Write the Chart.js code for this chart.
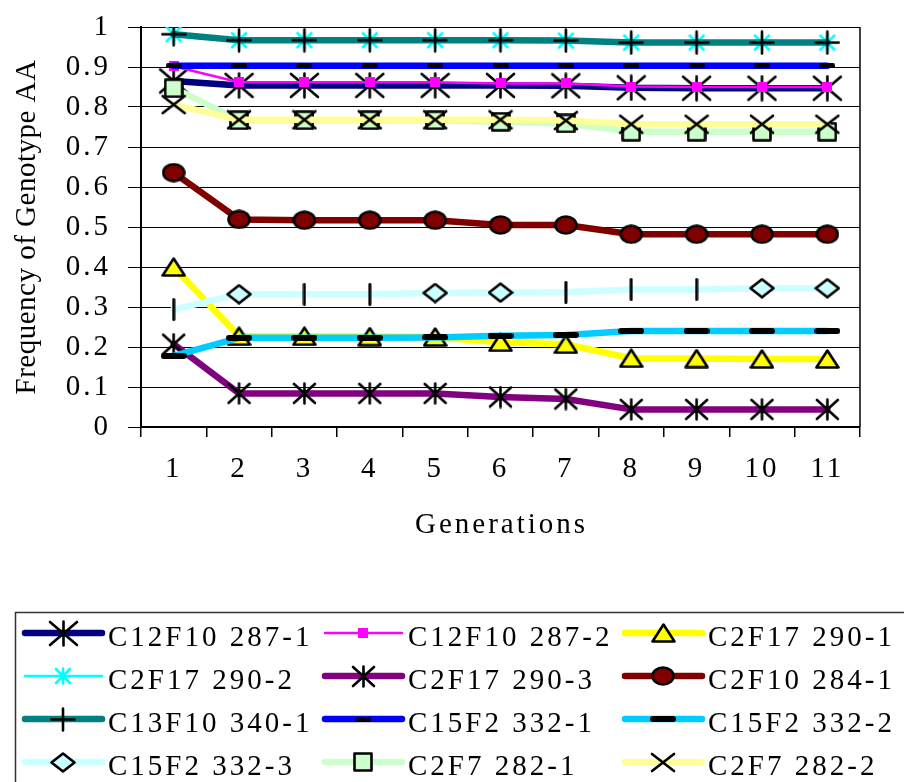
<!DOCTYPE html>
<html>
<head>
<meta charset="utf-8">
<script src="https://cdn.jsdelivr.net/npm/chart.js@4.4.1/dist/chart.umd.min.js"></script>
<style>
  html, body { margin: 0; padding: 0; background: #fff; }
  #chart { display: block; }
</style>
</head>
<body>
<canvas id="chart" width="904" height="782"></canvas>
<script>
const generations = ['1', '2', '3', '4', '5', '6', '7', '8', '9', '10', '11']
const yTickLabels = ['0', '0.1', '0.2', '0.3', '0.4', '0.5', '0.6', '0.7', '0.8', '0.9', '1']

const c12f10_287_1 = [0.865, 0.854, 0.854, 0.854, 0.854, 0.854, 0.853, 0.848, 0.847, 0.847, 0.847]
const c12f10_287_2 = [0.902, 0.862, 0.862, 0.862, 0.862, 0.859, 0.859, 0.851, 0.850, 0.850, 0.850]
const c2f17_290_1 = [0.400, 0.227, 0.227, 0.226, 0.225, 0.212, 0.207, 0.172, 0.171, 0.170, 0.170]
const c2f17_290_2 = [0.982, 0.967, 0.967, 0.967, 0.967, 0.967, 0.966, 0.961, 0.961, 0.961, 0.961]
const c2f17_290_3 = [0.207, 0.084, 0.084, 0.084, 0.084, 0.075, 0.070, 0.044, 0.044, 0.044, 0.044]
const c2f10_284_1 = [0.636, 0.519, 0.517, 0.517, 0.517, 0.505, 0.505, 0.482, 0.482, 0.482, 0.482]
const c13f10_340_1 = [0.982, 0.967, 0.967, 0.967, 0.967, 0.967, 0.966, 0.961, 0.961, 0.961, 0.961]
const c15f2_332_1 = [0.903, 0.903, 0.903, 0.903, 0.903, 0.903, 0.903, 0.903, 0.903, 0.903, 0.903]
const c15f2_332_2 = [0.178, 0.223, 0.223, 0.223, 0.224, 0.228, 0.230, 0.240, 0.240, 0.240, 0.240]
const c15f2_332_3 = [0.294, 0.332, 0.332, 0.332, 0.335, 0.336, 0.337, 0.344, 0.344, 0.347, 0.347]
const c2f7_282_1 = [0.847, 0.767, 0.767, 0.767, 0.767, 0.763, 0.759, 0.738, 0.738, 0.738, 0.738]
const c2f7_282_2 = [0.806, 0.768, 0.768, 0.768, 0.768, 0.768, 0.766, 0.757, 0.757, 0.757, 0.757]

const FONT = '"Liberation Serif", "Times New Roman", serif'

// marker images (the original markers are slightly stretched, so build them by hand)
function marker(w, h, draw) {
  const c = document.createElement('canvas')
  c.width = w
  c.height = h
  const g = c.getContext('2d')
  g.lineCap = 'round'
  g.lineJoin = 'round'
  draw(g, w, h)
  return c
}

function lines(g, segs, color, lw) {
  g.strokeStyle = color
  g.lineWidth = lw
  g.beginPath()
  segs.forEach(([x0, y0, x1, y1]) => { g.moveTo(x0, y0); g.lineTo(x1, y1) })
  g.stroke()
}

const asterisk = (w, h, color) => marker(w, h, (g) => {
  lines(g, [[2, 2, w - 2, h - 2], [w - 2, 2, 2, h - 2], [w / 2, 1.5, w / 2, h - 1.5]], color, 2.6)
})
const cross = (w, h) => marker(w, h, (g) => {
  lines(g, [[2, 2, w - 2, h - 2], [w - 2, 2, 2, h - 2]], '#000', 2.6)
})
const plus = (w, h) => marker(w, h, (g) => {
  lines(g, [[1.5, h / 2, w - 1.5, h / 2], [w / 2, 1.5, w / 2, h - 1.5]], '#000', 2.6)
})
const dash = (w, h) => marker(w, h, (g) => {
  lines(g, [[h / 2, h / 2, w - h / 2, h / 2]], '#000', h)
})
const vbar = (w, h) => marker(w, h, (g) => {
  lines(g, [[w / 2, 1.5, w / 2, h - 1.5]], '#000', 3)
})
const box = (w, h, fill) => marker(w, h, (g) => {
  g.fillStyle = fill
  g.fillRect(0, 0, w, h)
})
const shape = (w, h, fill, path) => marker(w, h, (g) => {
  g.beginPath()
  path(g, w, h)
  g.closePath()
  g.fillStyle = fill
  g.fill()
  g.strokeStyle = '#000'
  g.lineWidth = 2.6
  g.stroke()
})
const circle = (w, h, fill) => shape(w, h, fill, (g) => g.ellipse(w / 2, h / 2, w / 2 - 1.5, h / 2 - 1.5, 0, 0, Math.PI * 2))
const square = (w, h, fill) => shape(w, h, fill, (g) => g.rect(1.5, 1.5, w - 3, h - 3))
const triangle = (w, h, fill) => shape(w, h, fill, (g) => {
  g.moveTo(w / 2, 1.5); g.lineTo(w - 1.5, h - 1.5); g.lineTo(1.5, h - 1.5)
})
const diamond = (w, h, fill) => shape(w, h, fill, (g) => {
  g.moveTo(w / 2, 1.5); g.lineTo(w - 1.5, h / 2); g.lineTo(w / 2, h - 1.5); g.lineTo(1.5, h / 2)
})

const mDiamond = diamond(26, 21, '#CCFFFF')
const mBar = vbar(4, 23)

const styles = [
  { color: '#000080', width: 6.5, marker: asterisk(31, 27, '#000') },
  { color: '#FF00FF', width: 2.5, marker: box(10, 10, '#FF00FF') },
  { color: '#FFFF00', width: 6.5, marker: triangle(25, 20, '#FFFF00') },
  { color: '#00FFFF', width: 2.5, marker: asterisk(18, 18, '#00FFFF') },
  { color: '#800080', width: 6.5, marker: asterisk(25, 23, '#000') },
  { color: '#800000', width: 6.5, marker: circle(24, 20, '#800000') },
  { color: '#008080', width: 6.5, marker: plus(26, 25) },
  { color: '#0000FF', width: 6.5, marker: dash(16, 5) },
  { color: '#00CCFF', width: 6.5, marker: dash(26, 6) },
  { color: '#CCFFFF', width: 6.5, marker: mDiamond,
    points: [mBar, mDiamond, mBar, mBar, mDiamond, mDiamond, mBar, mBar, mBar, mDiamond, mDiamond] },
  { color: '#CCFFCC', width: 6.5, marker: square(20, 20, '#CCFFCC') },
  { color: '#FFFF99', width: 6.5, marker: cross(26, 21) }
]

const seriesLabels = [
  'C12F10 287-1', 'C12F10 287-2', 'C2F17 290-1',
  'C2F17 290-2', 'C2F17 290-3', 'C2F10 284-1',
  'C13F10 340-1', 'C15F2 332-1', 'C15F2 332-2',
  'C15F2 332-3', 'C2F7 282-1', 'C2F7 282-2'
]
const seriesValues = [
  c12f10_287_1, c12f10_287_2, c2f17_290_1,
  c2f17_290_2, c2f17_290_3, c2f10_284_1,
  c13f10_340_1, c15f2_332_1, c15f2_332_2,
  c15f2_332_3, c2f7_282_1, c2f7_282_2
]

const datasets = seriesLabels.map((label, i) => ({
  label,
  data: seriesValues[i],
  borderColor: styles[i].color,
  backgroundColor: styles[i].color,
  borderWidth: styles[i].width,
  borderJoinStyle: 'round',
  borderCapStyle: 'round',
  tension: 0,
  pointStyle: styles[i].points || styles[i].marker,
  pointRadius: 5,
  order: -i // later series on top, like the original
}))

const spacing = {
  id: 'spacing',
  beforeDraw(chart) {
    chart.ctx.letterSpacing = '3px'
  }
}

const frame = {
  id: 'frame',
  afterDraw(chart) {
    const { ctx, chartArea } = chart
    ctx.save()
    ctx.strokeStyle = '#000'
    ctx.lineWidth = 1.5
    ctx.beginPath()
    ctx.moveTo(chartArea.right, chartArea.top)
    ctx.lineTo(chartArea.right, chartArea.bottom)
    ctx.stroke()

    ctx.fillStyle = '#000'
    ctx.font = '29px ' + FONT
    ctx.letterSpacing = '3px'
    ctx.textAlign = 'center'
    ctx.textBaseline = 'alphabetic'
    ctx.fillText('Generations', (chartArea.left + chartArea.right) / 2 + 1, 533)

    ctx.letterSpacing = '0.5px'
    ctx.translate(35, (chartArea.top + chartArea.bottom) / 2)
    ctx.rotate(-Math.PI / 2)
    ctx.fillText('Frequency of Genotype AA', 0, 0)
    ctx.restore()
  }
}

const legendBox = {
  id: 'legendBox',
  afterDraw(chart) {
    const ctx = chart.ctx
    ctx.save()
    ctx.strokeStyle = '#333'
    ctx.lineWidth = 1.5
    ctx.strokeRect(15.5, 612.5, 1000, 300)
    ctx.font = '29px ' + FONT
    ctx.letterSpacing = '3px'
    ctx.textAlign = 'left'
    ctx.textBaseline = 'alphabetic'
    chart.data.datasets.forEach((ds, i) => {
      const x0 = 25 + (i % 3) * 300
      const y = 633 + Math.floor(i / 3) * 43
      ctx.strokeStyle = ds.borderColor
      ctx.lineWidth = ds.borderWidth
      ctx.lineCap = 'round'
      ctx.beginPath()
      ctx.moveTo(x0, y)
      ctx.lineTo(x0 + 77, y)
      ctx.stroke()
      const m = styles[i].marker
      ctx.drawImage(m, Math.round(x0 + 38 - m.width / 2), Math.round(y - m.height / 2))
      ctx.fillStyle = '#000'
      ctx.fillText(ds.label, x0 + 83, y + 12.5)
    })
    ctx.restore()
  }
}

Chart.defaults.font.family = FONT
Chart.defaults.font.size = 29
Chart.defaults.color = '#000'

new Chart(document.getElementById('chart'), {
  type: 'line',
  data: { labels: generations, datasets },
  options: {
    responsive: false,
    animation: false,
    events: [],
    layout: { padding: { top: 27, right: 44, bottom: 0, left: 0 } },
    plugins: {
      legend: { display: false },
      tooltip: { enabled: false }
    },
    scales: {
      x: {
        offset: true,
        grid: { offset: true, drawOnChartArea: false, tickLength: 10, color: '#000', lineWidth: 1.5 },
        border: { color: '#000', width: 1.5 },
        ticks: { padding: 15, maxRotation: 0, autoSkip: false },
        afterFit: (scale) => {
          scale.height = 355
          scale.paddingLeft = 0
          scale.paddingRight = 0
        }
      },
      y: {
        min: 0,
        max: 1,
        grid: { color: '#000', lineWidth: 1, tickLength: 13 },
        border: { color: '#000', width: 2 },
        ticks: {
          stepSize: 0.1,
          padding: 17,
          autoSkip: false,
          callback: (value, index) => yTickLabels[index]
        },
        afterFit: (scale) => {
          scale.width = 141
          scale.paddingTop = 0
          scale.paddingBottom = 0
        }
      }
    }
  },
  plugins: [spacing, frame, legendBox]
})
</script>
</body>
</html>
